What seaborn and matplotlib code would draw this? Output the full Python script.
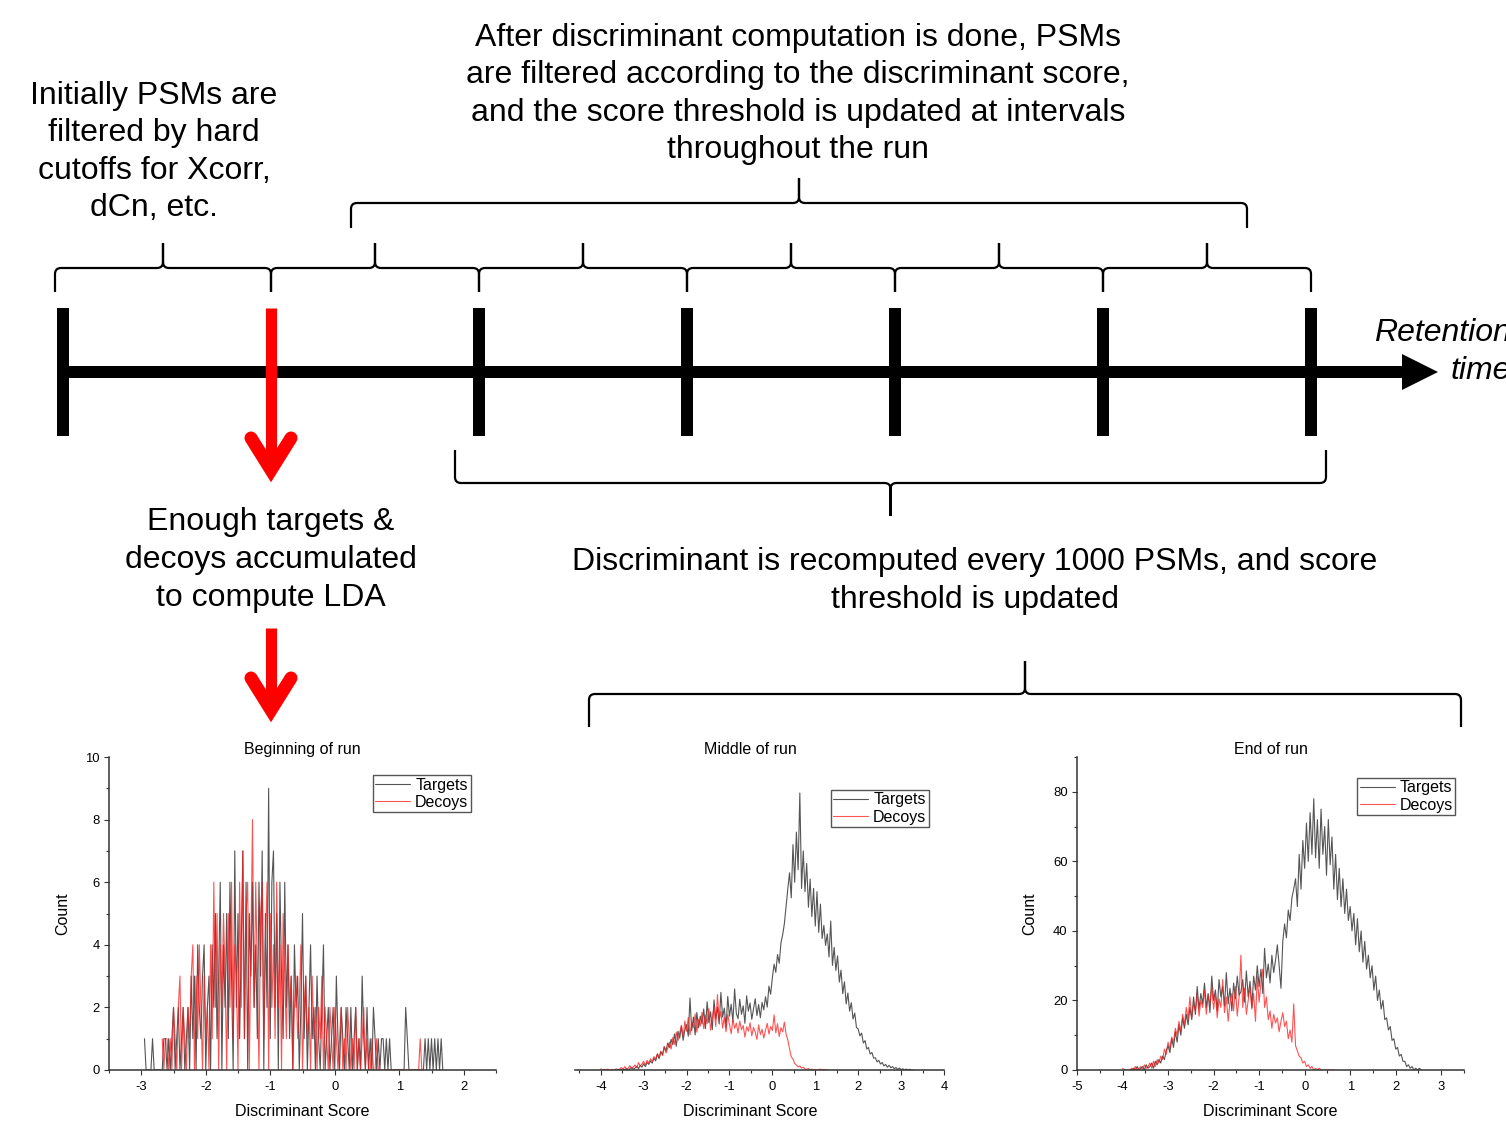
import numpy as np
import pandas as pd
import seaborn as sns
import matplotlib.pyplot as plt
from matplotlib.path import Path
from matplotlib.patches import PathPatch, Rectangle, Polygon
from matplotlib.ticker import MultipleLocator

# ---------------- data ----------------
panel_titles = ["Beginning of run", "Middle of run", "End of run"]
series_labels = ["Targets", "Decoys"]

# beginning of run: counts per 0.025 bin
begin_step = 0.025
begin_targets_x0 = -2.95
begin_targets = [1,0,0,0,0,1,0,0,0,0, 0,0,1,1,0,1,0,1,2,0, 1,2,0,1,2,0,1,2,0,3,
                 1,3,0,4,2,1,3,4,0,2, 3,0,4,2,5,1,3,6,0,4, 2,5,1,6,3,0,7,2,5,1,
                 4,7,1,6,0,5,3,6,2,4, 1,6,3,7,0,5,2,9,1,6, 7,2,5,0,6,3,1,6,2,4,
                 1,3,0,4,2,3,0,2,5,1, 3,0,2,4,1,2,0,3,1,0, 2,4,0,1,2,0,1,2,0,3,
                 1,0,2,1,0,2,1,0,2,0, 1,2,0,1,0,3,1,0,2,0, 1,0,2,1,0,1,0,1,1,0,
                 1,0,1,0,0,0,0,0,0,0, 0,0,2,1,0,0,0,0,0,0, 0,0,0,0,1,0,1,0,1,0,
                 1,0,1,0,1,0]
begin_decoys_x0 = -2.675
begin_decoys = [1,0,1,1,0,1,0,2,1,0, 2,3,0,2,1,0,2,1,3,4, 0,3,1,4,2,0,3,1,2,0,
                4,1,6,2,5,0,4,2,5,3, 0,5,2,6,1,4,3,0,6,2, 7,1,5,6,0,4,8,2,6,3,
                0,5,6,1,4,6,0,5,2,4, 1,6,2,4,0,5,3,1,4,2, 3,0,2,3,1,2,4,0,2,3,
                1,2,0,3,1,2,0,2,1,3, 0,2,1,0,2,1,0,2,1,0, 1,2,0,1,0,2,1,0,1,0,
                2,0,1,0,1,2,0,1,0,0, 1,0,0,1,0,0,0,0,0,0, 0,0,0,0,0,0,0,0,0,0,
                0,0,0,0,0,0,0,0,0,0, 1,0]

# middle and end of run: counts per 0.04 bin
step = 0.04
mid_targets_x0 = -3.6
mid_targets = [0,0,0,0.3,0,0.5,0,0.4,0.8,0.3,
               0.6,1.2,0.4,1.5,0.9,2.0,1.1,2.4,1.8,2.9,
               2.2,3.8,2.9,5.1,3.6,5.8,4.9,7.4,6.1,8.6,
               7.2,9.8,8.1,11.5,7.6,12.4,10.2,13.9,9.5,12.8,
               14.5,10.8,23.0,12.6,16.9,11.2,18.4,13.5,17.2,14.8,
               19.5,13.2,21.8,15.1,18.6,12.9,22.4,16.3,20.1,14.7,
               24.8,16.9,19.8,13.6,23.5,17.2,21.0,15.4,25.9,18.1,
               16.4,22.6,17.8,20.5,14.9,23.7,18.8,21.4,16.2,19.6,
               22.8,17.4,20.9,16.7,21.6,19.2,23.4,20.1,26.8,24.2,
               29.5,33.8,31.2,36.9,34.1,40.6,43.2,46.8,52.4,57.9,
               63.0,55.0,72.0,60.0,76.0,64.0,88.5,58.0,70.0,57.0,
               66.0,52.0,61.0,49.0,58.0,46.0,57.0,44.0,53.0,42.0,
               46.2,39.8,43.5,36.1,47.6,33.4,39.2,31.8,36.5,28.1,
               31.9,24.4,28.2,21.1,24.6,18.8,21.5,16.3,18.2,13.6,
               13.1,10.9,11.8,8.6,9.4,6.7,7.2,5.1,5.6,3.8,
               3.9,2.6,3.1,1.9,2.4,1.3,1.8,0.9,1.5,0.7,
               1.1,0.4,0.8,0.2,0.6,0.1,0.4,0,0.3,0,
               0.2,0,0]
mid_decoys_x0 = -4.0
mid_decoys = [0.4,0,0.2,0,0.3,0,0,0.2,0,0.4,
              0,0.3,0.8,0.2,1.1,0.3,0.6,1.4,0.5,1.0,
              1.6,0.7,2.4,1.2,1.9,2.8,1.5,3.1,2.2,3.6,
              2.7,4.3,3.4,5.2,4.1,6.0,4.6,7.5,5.4,6.8,
              8.9,6.7,10.4,8.2,12.1,9.4,11.8,14.3,10.6,15.7,
              12.4,16.8,11.2,15.3,13.6,17.9,12.1,16.2,14.0,18.4,
              13.2,17.5,14.8,19.6,12.7,16.4,20.3,13.9,24.1,15.8,
              18.7,13.4,16.9,12.2,17.8,14.5,11.6,16.1,13.3,15.0,
              11.8,15.6,12.9,14.2,10.5,13.8,12.4,15.1,10.9,13.6,
              12.1,9.8,14.4,11.3,13.0,10.2,12.7,14.9,11.5,13.9,
              12.6,17.6,11.9,14.8,10.7,13.5,12.2,15.3,11.4,9.6,
              6.8,4.2,3.5,2.1,1.6,1.0,1.3,0.6,0.9,0.3,
              0.2,0.5,0,0.3,0,0.2,0,0.1,0.3,0,
              0.2,0,0,0]
end_targets_x0 = -3.8
end_targets = [0,0.5,0,1,0,0.5,1,0,1.5,0.5,
               1,2,0.5,2.5,1.5,3,2,4,3,5.5,
               7,5,9,6.5,11,8,13,10,15,12,
               16,13,18,14.5,21,16,24,17.5,22,19,
               25,18,22,16.5,27,20,23,17,26,21,
               24,18.5,28,19,23.5,17,25,20.5,27,21.5,
               22.5,26,19.5,28.5,21,25.5,18,27,23,30,
               24,29,22,35,26.5,30.5,25,33,28,31.5,
               36,30,23.5,37,42,38,46,43,49.5,52,
               55,47,62,52,66,58,71,60,74,62,
               78,61,72,58,75,62,70,56,72,59,
               67,52,62,49,58,47,55,45,52,43,
               47,40,45,36,43.5,34,40,31,37,29,
               33,26.5,30,23,27,20,23,17.5,20,14.5,
               15,11.5,12.5,8.5,9,6,6.5,4,4.5,2.5,
               2.5,1,1.5,0.5,1,0,0.5,0,0.5,0]
end_decoys_x0 = -4.0
end_decoys = [0.5,0,0,0,0,0.5,0,1,0,0.5,
              1,0,1.5,0.5,1,2,0.5,2.5,1,3,
              2,4,3,6,4.5,8,6,9.5,8,12,
              10,14,11,16,13,18,14.5,21,15,19,
              17,22,15.5,20,18,23,16,21.5,19,24,
              17.5,22,15,20.5,18,26,16.5,21,14,19.5,
              22,17,24,15.5,21,33,18,23.5,16,20,
              24,17.5,22,14,27,19.5,25,29,18,21,
              14.5,17,12,16,13.5,15,11,14,16.5,12.5,
              14,9,11.5,8,19,7,5.5,4,3.5,2,
              2.5,1,1.5,0.5,1,0,0.5,0,0.5,0,
              0,0,0,0,0,0,0]

# timeline: seven update points, LDA first computed at the second one
timeline_points = [0, 1, 2, 3, 4, 5, 6]
lda_point = 1

text_initial = "Initially PSMs are\nfiltered by hard\ncutoffs for Xcorr,\ndCn, etc."
text_after = ("After discriminant computation is done, PSMs\n"
              "are filtered according to the discriminant score,\n"
              "and the score threshold is updated at intervals\n"
              "throughout the run")
text_enough = "Enough targets &\ndecoys accumulated\nto compute LDA"
text_recomp = "Discriminant is recomputed every 1000 PSMs, and score\nthreshold is updated"
text_rt = "Retention\ntime"

# ---------------- figure ----------------
sns.set_style("ticks")
plt.rcParams['font.family'] = ['Liberation Sans', 'DejaVu Sans']
plt.rcParams['axes.unicode_minus'] = False
plt.rcParams['text.color'] = 'black'
plt.rcParams['axes.labelcolor'] = 'black'
plt.rcParams['xtick.color'] = '#333333'
plt.rcParams['ytick.color'] = '#333333'
plt.rcParams['xtick.labelcolor'] = 'black'
plt.rcParams['ytick.labelcolor'] = 'black'

W, H = 1506, 1121
fig = plt.figure(figsize=(W / 100, H / 100), dpi=100)
bg = fig.add_axes([0, 0, 1, 1])
bg.set_xlim(0, W)
bg.set_ylim(H, 0)
bg.axis('off')


def brace(ax, x0, x1, yh, ye, yt, r=6, lw=1.6):
    xm = (x0 + x1) / 2
    s = np.sign(ye - yh)
    verts = [(x0, ye), (x0, yh + s * r), (x0, yh), (x0 + r, yh),
             (xm - r, yh), (xm, yh), (xm, yh - s * r), (xm, yt),
             (xm, yh - s * r), (xm, yh), (xm + r, yh),
             (x1 - r, yh), (x1, yh), (x1, yh + s * r), (x1, ye)]
    M, L, C = Path.MOVETO, Path.LINETO, Path.CURVE3
    codes = [M, L, C, C, L, C, C, L, L, C, C, L, C, C, L]
    ax.add_patch(PathPatch(Path(verts, codes), fill=False, lw=lw, color='black'))


def red_arrow(ax, x, y0, ytip):
    ax.plot([x, x], [y0, ytip - 14], color='red', lw=8, solid_capstyle='butt')
    ax.plot([x - 20, x, x + 20], [ytip - 44, ytip - 12, ytip - 44], color='red',
            lw=9.4, solid_capstyle='round', solid_joinstyle='miter')


# timeline
tx0, tdx = 63, 208
tick_xs = [tx0 + tdx * p for p in timeline_points]
bg.add_patch(Rectangle((tick_xs[0], 366), 1404 - tick_xs[0], 12, color='black', lw=0))
bg.add_patch(Polygon([(1402, 354), (1438, 372), (1402, 390)], color='black', lw=0))
for p, x in zip(timeline_points, tick_xs):
    if p == lda_point:
        continue
    bg.add_patch(Rectangle((x - 6, 308), 12, 128, color='black', lw=0))
red_arrow(bg, tick_xs[lda_point], 308, 482)
red_arrow(bg, tick_xs[lda_point], 628, 722)

# braces
for a, b in zip(tick_xs[:-1], tick_xs[1:]):
    brace(bg, a if a != tick_xs[0] else 55, b, 268, 292, 243)
brace(bg, 351, 1247, 203, 228, 178)
brace(bg, 455, 1326, 483, 450, 516)
brace(bg, 589, 1461, 694, 727, 661)

# texts
fs = 23
ls = 1.33
bg.text(154, 152, text_initial, fontsize=fs, ha='center', va='center', linespacing=ls, color='black')
bg.text(798, 94, text_after, fontsize=fs, ha='center', va='center', linespacing=ls, color='black')
bg.text(271, 560, text_enough, fontsize=fs, ha='center', va='center', linespacing=ls, color='black')
bg.text(975, 581, text_recomp, fontsize=fs, ha='center', va='center', linespacing=ls, color='black')
bg.text(1511, 352, text_rt, fontsize=fs, ha='right', va='center', style='italic',
        multialignment='right', linespacing=ls, color='black')

# ---------------- histogram panels ----------------
target_color, decoy_color = '#2b2b2b', '#ff1a1a'
panels = [
    dict(rect=[109, 496], xlim=(-3.5, 2.5), ylim=(0, 10), ymaj=2, ymin=1,
         series=[(begin_targets_x0, begin_step, begin_targets), (begin_decoys_x0, begin_step, begin_decoys)],
         leg=(0.935, 0.942), showy=True, tx=0.5),
    dict(rect=[575, 944], xlim=(-4.6, 4.0), ylim=(0, 100), ymaj=None, ymin=None,
         series=[(mid_targets_x0, step, mid_targets), (mid_decoys_x0, step, mid_decoys)],
         leg=(0.959, 0.895), showy=False, tx=0.474),
    dict(rect=[1077, 1464], xlim=(-5, 3.5), ylim=(0, 90), ymaj=20, ymin=10,
         series=[(end_targets_x0, step, end_targets), (end_decoys_x0, step, end_decoys)],
         leg=(0.977, 0.933), showy=True, tx=0.5),
]

ax_top, ax_bot = 757, 1070
for title, pnl in zip(panel_titles, panels):
    l, r = pnl['rect']
    ax = fig.add_axes([l / W, (H - ax_bot) / H, (r - l) / W, (ax_bot - ax_top) / H])
    ax.set_facecolor('none')
    for (x0, dx, counts), lab, col, al in zip(pnl['series'], series_labels,
                                             [target_color, decoy_color], [0.8, 0.75]):
        xs = x0 + dx * np.arange(len(counts))
        sns.lineplot(x=xs, y=counts, ax=ax, color=col, lw=0.8, alpha=al, label=lab)
    ax.set_xlim(*pnl['xlim'])
    ax.set_ylim(*pnl['ylim'])
    ax.xaxis.set_major_locator(MultipleLocator(1))
    ax.xaxis.set_minor_locator(MultipleLocator(0.5))
    sns.despine(ax=ax, left=not pnl['showy'])
    for sp in ['left', 'bottom']:
        ax.spines[sp].set_linewidth(1.1)
        ax.spines[sp].set_color('#333333')
    ax.tick_params(which='major', direction='out', length=3.6, width=0.8,
                   labelsize=9.4, pad=4.5)
    ax.tick_params(which='minor', direction='out', length=2.2, width=0.8)
    if pnl['showy']:
        ax.yaxis.set_major_locator(MultipleLocator(pnl['ymaj']))
        ax.yaxis.set_minor_locator(MultipleLocator(pnl['ymin']))
        ax.tick_params(axis='y', which='major', pad=3.2)
        ax.set_ylabel("Count", fontsize=11.5, labelpad=11)
    else:
        ax.set_yticks([])
        ax.set_ylabel("")
    ax.set_xlabel("Discriminant Score", fontsize=11.5, labelpad=8, x=pnl['tx'])
    ax.set_title(title, fontsize=11.5, pad=-3.5, x=pnl['tx'])
    leg = ax.legend(loc='upper right', bbox_to_anchor=pnl['leg'], frameon=True, fancybox=False,
                    edgecolor='#555555', framealpha=1, fontsize=11.5, handlelength=2.2,
                    handletextpad=0.3, borderpad=0.15, labelspacing=0.15, borderaxespad=0)
    leg.get_frame().set_linewidth(1.0)

fig.savefig("out.png", dpi=100, facecolor='white')
